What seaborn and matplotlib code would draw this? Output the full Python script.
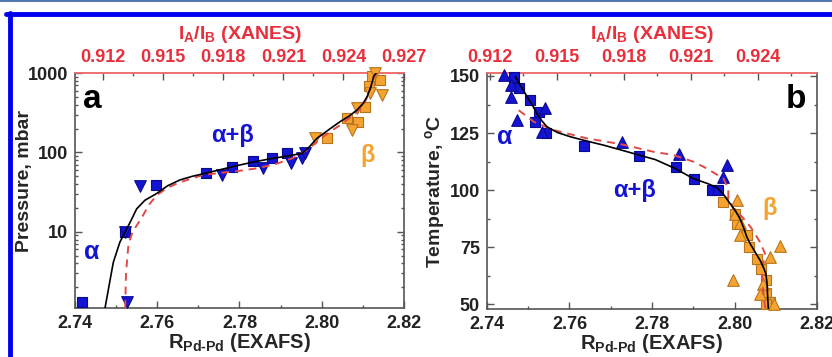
import numpy as np
import pandas as pd
import matplotlib
matplotlib.use("Agg")
import matplotlib.pyplot as plt
import seaborn as sns
from matplotlib.lines import Line2D
from matplotlib.ticker import MultipleLocator, FixedLocator, FuncFormatter, LogLocator, NullFormatter

# ---------------- data: panel a (pressure) ----------------
a_sq_blue_x = [2.7416, 2.7522, 2.7597, 2.7719, 2.7781, 2.7833, 2.7879, 2.7915]
a_sq_blue_y = [1.3, 10, 39, 55, 66, 78, 84, 97]
a_tri_blue_x = [2.7527, 2.7522, 2.7558, 2.7757, 2.7857, 2.7926, 2.7952, 2.7960]
a_tri_blue_y = [1.3, 10, 38, 52, 64, 74, 84, 97]
a_sq_or_x = [2.8012, 2.8061, 2.8087, 2.8106, 2.8114, 2.8122, 2.8142]
a_sq_or_y = [150, 272, 245, 378, 680, 905, 824]
a_tri_or_x = [2.7984, 2.8073, 2.8085, 2.8118, 2.8130, 2.8146]
a_tri_or_y = [150, 192, 360, 560, 990, 530]
a_fit_x = [2.7473, 2.7493, 2.7509, 2.7522, 2.7535, 2.7550, 2.7570, 2.7599, 2.7625, 2.7655,
           2.7685, 2.7719, 2.7755, 2.7793, 2.7830, 2.7874, 2.7915, 2.7952, 2.7970, 2.7988,
           2.8015, 2.8045, 2.8068, 2.8085, 2.8100, 2.8110, 2.8120, 2.8126, 2.8132]
a_fit_y = [1.1, 4.1, 7.4, 10, 13.5, 19.5, 25, 30.5, 38, 45,
           50, 55, 61, 68, 75, 83, 90, 97, 118, 150,
           190, 245, 290, 340, 410, 500, 680, 900, 1000]
a_xan_x = [2.7522, 2.7524, 2.7530, 2.7540, 2.7562, 2.7580, 2.7599, 2.7625, 2.7655, 2.7711,
           2.7750, 2.7793, 2.7842, 2.7890, 2.7930, 2.7964, 2.8005, 2.8045, 2.8075, 2.8100,
           2.8115, 2.8125, 2.8135]
a_xan_y = [1.1, 3, 7, 10, 15, 22, 29, 36, 42, 52,
           55, 58, 63, 72, 85, 107, 160, 222, 290, 380,
           560, 860, 1000]

# ---------------- data: panel b (temperature) ----------------
b_sq_blue_x = [2.7465, 2.7477, 2.7505, 2.7525, 2.7517, 2.7544, 2.7634, 2.7768, 2.7858, 2.7902, 2.7945, 2.7959]
b_sq_blue_y = [149.7, 144.6, 139.5, 134.3, 130.0, 124.9, 119.5, 114.9, 110.0, 105.1, 100.3, 100.0]
b_tri_blue_x = [2.7440, 2.7457, 2.7459, 2.7473, 2.7541, 2.7533, 2.7727, 2.7866, 2.7981, 2.7973]
b_tri_blue_y = [150.4, 146.0, 140.9, 130.7, 135.8, 125.6, 121.0, 115.8, 111.0, 105.8]
b_sq_or_x = [2.7973, 2.8001, 2.8005, 2.8030, 2.8034, 2.8054, 2.8065, 2.8076, 2.8077, 2.8087, 2.8077]
b_sq_or_y = [94.9, 89.8, 85.4, 80.5, 75.1, 70.0, 65.3, 60.5, 55.2, 51.0, 50.3]
b_tri_or_x = [2.8005, 2.8001, 2.8013, 2.8013, 2.8110, 2.8087, 2.7997, 2.8070, 2.8063, 2.8095]
b_tri_or_y = [95.6, 89.8, 85.5, 80.3, 75.5, 70.8, 60.5, 59.0, 54.7, 50.0]
b_fit_x = [2.7469, 2.7483, 2.7497, 2.7510, 2.7521, 2.7533, 2.7545, 2.7570, 2.7602, 2.7640,
           2.7683, 2.7725, 2.7768, 2.7808, 2.7855, 2.7900, 2.7935, 2.7957, 2.7975, 2.7989,
           2.8002, 2.8013, 2.8022, 2.8030, 2.8038, 2.8050, 2.8062, 2.8070, 2.8076, 2.8079,
           2.8080, 2.8082]
b_fit_y = [149.7, 145.3, 141, 137.2, 133.6, 130.4, 127.8, 125.3, 123.4, 121.6,
           119.7, 117.6, 115.4, 113.4, 109.6, 105.1, 102.9, 101.2, 97.8, 94.2,
           91.0, 87.6, 83.6, 79.5, 76.6, 72.9, 69.3, 66.3, 63.5, 59.0,
           54.7, 48]
b_xan_x = [2.7477, 2.7513, 2.7562, 2.7642, 2.7723, 2.7804, 2.7852, 2.7900, 2.7933, 2.7973,
           2.7985, 2.7985, 2.7997, 2.8020, 2.8039, 2.8062, 2.8074, 2.8066, 2.8070, 2.8075]
b_xan_y = [135, 130, 126.3, 122.7, 120.2, 116.8, 115.4, 112.5, 109.5, 105.1,
           100.7, 97.1, 92, 88, 83.9, 77.3, 72.2, 64, 55, 48]

x_ticks = [2.74, 2.76, 2.78, 2.80, 2.82]
top_ticks_a = [0.912, 0.915, 0.918, 0.921, 0.924, 0.927]
top_ticks_b = [0.912, 0.915, 0.918, 0.921, 0.924]
y_ticks_b = [50, 75, 100, 125, 150]

# ---------------- style ----------------
sns.set_style("ticks")
plt.rcParams['font.family'] = ['Liberation Sans', 'DejaVu Sans']
plt.rcParams['font.weight'] = 'bold'
plt.rcParams['axes.labelweight'] = 'bold'
plt.rcParams['mathtext.fontset'] = 'custom'
plt.rcParams['mathtext.rm'] = 'Liberation Sans:bold'
plt.rcParams['mathtext.it'] = 'Liberation Sans:bold'
plt.rcParams['mathtext.bf'] = 'Liberation Sans:bold'

BLUE = '#1414d2'
ORANGE = '#f5a431'
ORANGE_E = '#b8741c'
RED = '#e8303c'
REDDASH = '#e24a4a'
SPINE = '#555555'
FS = 13
LFS = 14

fig = plt.figure(figsize=(8.32, 3.57), dpi=100)
ax_a = fig.add_axes([75/832, 49/357, 329/832, 235/357])
ax_b = fig.add_axes([487/832, 48/357, 330/832, 236/357])


def scatter(ax, xs, ys, marker, face, edge, size):
    df = pd.DataFrame({'x': xs, 'y': ys})
    sns.scatterplot(data=df, x='x', y='y', ax=ax, marker=marker, s=size, color=face,
                    edgecolor=edge, linewidth=0.8, zorder=3, clip_on=False, legend=False)


def line(ax, xs, ys, color, ls, lw):
    df = pd.DataFrame({'x': xs, 'y': ys})
    sns.lineplot(data=df, x='x', y='y', ax=ax, sort=False, estimator=None,
                 color=color, linestyle=ls, linewidth=lw, zorder=4)


# panel a
scatter(ax_a, a_sq_blue_x, a_sq_blue_y, 's', BLUE, '#0a0a90', 55)
scatter(ax_a, a_tri_blue_x, a_tri_blue_y, 'v', BLUE, '#0a0a90', 70)
scatter(ax_a, a_sq_or_x, a_sq_or_y, 's', ORANGE, ORANGE_E, 55)
scatter(ax_a, a_tri_or_x, a_tri_or_y, 'v', ORANGE, ORANGE_E, 70)
line(ax_a, a_xan_x, a_xan_y, REDDASH, (0, (4, 3)), 1.4)
line(ax_a, a_fit_x, a_fit_y, 'black', '-', 1.2)

# panel b
scatter(ax_b, b_sq_blue_x, b_sq_blue_y, 's', BLUE, '#0a0a90', 55)
scatter(ax_b, b_tri_blue_x, b_tri_blue_y, '^', BLUE, '#0a0a90', 70)
scatter(ax_b, b_sq_or_x, b_sq_or_y, 's', ORANGE, ORANGE_E, 55)
scatter(ax_b, b_tri_or_x, b_tri_or_y, '^', ORANGE, ORANGE_E, 70)
line(ax_b, b_xan_x, b_xan_y, REDDASH, (0, (4, 3)), 1.4)
line(ax_b, b_fit_x, b_fit_y, 'black', '-', 1.2)

# axes setup
for ax in (ax_a, ax_b):
    ax.set_xlim(2.74, 2.82)
    ax.set_xticks(x_ticks)
    ax.xaxis.set_minor_locator(MultipleLocator(0.01))
    ax.xaxis.set_major_formatter(FuncFormatter(lambda v, p: f"{v:.2f}"))
    ax.tick_params(which='both', direction='in', right=True, top=False, colors=SPINE,
                   labelcolor='#222222', labelsize=FS, width=1.0)
    ax.tick_params(which='major', length=5, pad=5)
    ax.tick_params(which='minor', length=2.5)
    for s in ('left', 'bottom', 'right'):
        ax.spines[s].set_color(SPINE)
        ax.spines[s].set_linewidth(1.2)
    ax.spines['top'].set_color('#f07070')
    ax.spines['top'].set_linewidth(1.2)
    ax.set_xlabel(r"R$_{\mathrm{Pd\text{-}Pd}}$ (EXAFS)", fontsize=LFS + 0.5, labelpad=-1)

ax_a.set_yscale('log')
ax_a.set_ylim(1.1, 1000)
ax_a.yaxis.set_major_locator(FixedLocator([10, 100, 1000]))
ax_a.yaxis.set_minor_locator(LogLocator(base=10, subs=np.arange(2, 10)))
ax_a.yaxis.set_major_formatter(FuncFormatter(lambda v, p: f"{v:.0f}"))
ax_a.yaxis.set_minor_formatter(NullFormatter())
ax_a.set_ylabel("Pressure, mbar", fontsize=LFS)
ax_a.yaxis.set_label_coords(-0.128, 0.54)

ax_b.set_ylim(48, 151.3)
ax_b.set_yticks(y_ticks_b)
ax_b.yaxis.set_minor_locator(MultipleLocator(12.5))
ax_b.set_ylabel(r"Temperature, $^{\mathrm{o}}$C", fontsize=LFS, labelpad=2)

for ax in (ax_a, ax_b):
    for lab in ax.get_xticklabels() + ax.get_yticklabels():
        lab.set_fontweight('bold')

# top (XANES) axes
a0, a1 = 0.9106, 0.92702
b0, b1 = 0.91187, 0.92665
sa = (a1 - a0) / 0.08
sb = (b1 - b0) / 0.08
sec_a = ax_a.secondary_xaxis('top', functions=(lambda x: a0 + (x - 2.74) * sa,
                                               lambda t: 2.74 + (t - a0) / sa))
sec_b = ax_b.secondary_xaxis('top', functions=(lambda x: b0 + (x - 2.74) * sb,
                                               lambda t: 2.74 + (t - b0) / sb))
for sec, ticks in ((sec_a, top_ticks_a), (sec_b, top_ticks_b)):
    sec.set_xticks(ticks)
    sec.xaxis.set_minor_locator(MultipleLocator(0.0015))
    sec.xaxis.set_major_formatter(FuncFormatter(lambda v, p: f"{v:.3f}"))
    sec.tick_params(which='both', direction='in', colors=SPINE, labelcolor=RED, labelsize=FS, width=1.0)
    sec.tick_params(which='major', length=5, pad=5)
    sec.tick_params(which='minor', length=2.5)
    sec.spines['top'].set_color('#f07070')
    sec.spines['top'].set_linewidth(1.2)
    sec.set_xlabel(r"I$_{\mathrm{A}}$/I$_{\mathrm{B}}$ (XANES)", color=RED, fontsize=LFS, labelpad=7)
    for lab in sec.get_xticklabels():
        lab.set_fontweight('bold')

# annotations
ax_a.text(0.052, 0.889, "a", transform=ax_a.transAxes, fontsize=24, fontweight='bold',
          ha='center', va='center', color='black')
ax_b.text(0.936, 0.886, "b", transform=ax_b.transAxes, fontsize=24, fontweight='bold',
          ha='center', va='center', color='black')
ax_a.text(0.052, 0.238, "α", transform=ax_a.transAxes, fontsize=18, fontweight='bold', ha='center', va='center', color=BLUE)
ax_a.text(0.479, 0.732, "α+β", transform=ax_a.transAxes, fontsize=17, fontweight='bold', ha='center', va='center', color=BLUE)
ax_a.text(0.888, 0.647, "β", transform=ax_a.transAxes, fontsize=17, fontweight='bold', ha='center', va='center', color=ORANGE)
ax_b.text(0.055, 0.729, "α", transform=ax_b.transAxes, fontsize=18, fontweight='bold', ha='center', va='center', color=BLUE)
ax_b.text(0.448, 0.504, "α+β", transform=ax_b.transAxes, fontsize=17, fontweight='bold', ha='center', va='center', color=BLUE)
ax_b.text(0.855, 0.424, "β", transform=ax_b.transAxes, fontsize=17, fontweight='bold', ha='center', va='center', color=ORANGE)

# page frame decoration
W, H = 832, 357
fig.add_artist(Line2D([0, 1], [1 - 0.8 / H, 1 - 0.8 / H], transform=fig.transFigure,
                      color='#2f5f9f', lw=1.2))
fig.add_artist(Line2D([6 / W, 1], [1 - 14 / H, 1 - 14 / H], transform=fig.transFigure,
                      color='#0000f0', lw=3.5))
fig.add_artist(Line2D([10 / W, 10 / W], [0, 1 - 12.5 / H], transform=fig.transFigure,
                      color='#0000f0', lw=3.5))

fig.savefig("out.png", dpi=100)
